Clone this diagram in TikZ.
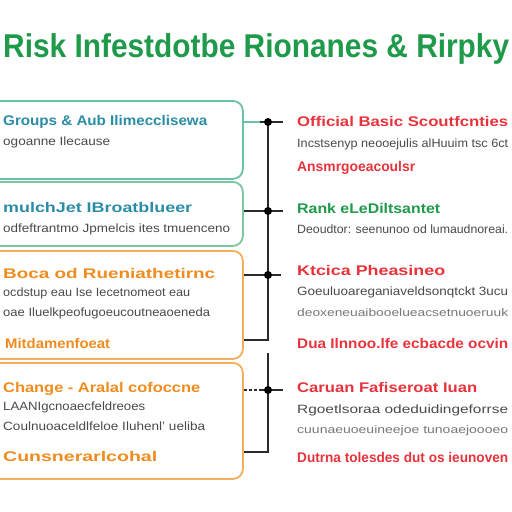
\documentclass[tikz,border=0pt]{standalone}
\usepackage{fontspec}
\setmainfont{Liberation Sans}
\usepackage{graphicx}
\newcommand{\fitw}[2]{\resizebox{#1}{\height}{#2}}
\definecolor{titlegreen}{HTML}{1E9A4A}
\definecolor{tealtext}{HTML}{2B8CA6}
\definecolor{redtext}{HTML}{E8333C}
\definecolor{orangetext}{HTML}{F08C1E}
\definecolor{orangeb}{HTML}{F4AD5A}
\definecolor{tealb}{HTML}{68C2A6}
\definecolor{greenb}{HTML}{7CC6A0}
\definecolor{graytext}{HTML}{4A4A4A}
\definecolor{lighttext}{HTML}{777777}
\definecolor{linecol}{HTML}{2A2A2A}
\begin{document}
\begin{tikzpicture}[x=1pt,y=-1pt,
  box/.style={draw, line width=1.8pt, rounded corners=10pt, anchor=north west, minimum width=262pt},
  txt/.style={inner sep=0pt, anchor=base west},
  head/.style={txt, font=\fontsize{14}{14}\selectfont\bfseries},
  sub/.style={txt, font=\fontsize{12}{12}\selectfont, text=graytext},
  subl/.style={txt, font=\fontsize{11}{11}\selectfont, text=lighttext},
  conn/.style={draw=linecol, line width=1.6pt},
  junction/.style={circle, fill=black, inner sep=0pt, minimum size=8pt}]
\useasboundingbox (0,0) rectangle (512,512);
\fill[white] (0,0) rectangle (512,512);

% title
\node[txt, text=titlegreen, font=\fontsize{33}{33}\selectfont\bfseries] (title) at (3,57)
  {\fitw{506pt}{Risk Infestdotbe Rionanes \& Rirpky}};

% left boxes
\node[box, draw=tealb, minimum height=78pt] (b1) at (-20,100) {};
\node[box, draw=greenb, minimum height=64pt] (b2) at (-20,181) {};
\node[box, draw=orangeb, minimum height=108pt] (b3) at (-20,250) {};
\node[box, draw=orangeb, minimum height=116pt] (b4) at (-20,362) {};

% box 1 text
\node[head, text=tealtext] (l1h) at (3,125) {\fitw{204pt}{Groups \& Aub Ilimecclisewa}};
\node[sub] (l1s) at (3,145) {\fitw{107pt}{ogoanne Ilecause}};
% box 2 text
\node[head, text=tealtext] (l2h) at (3,212) {\fitw{189pt}{mulchJet IBroatblueer}};
\node[sub] (l2s) at (3,232) {\fitw{227pt}{odfeftrantmo Jpmelcis ites tmuenceno}};
% box 3 text
\node[head, text=orangetext] (l3h) at (3,278) {\fitw{212pt}{Boca od Rueniathetirnc}};
\node[sub] (l3s) at (3,296) {\fitw{187pt}{ocdstup eau Ise Iecetnomeot eau}};
\node[sub] (l3t) at (3,316) {\fitw{207pt}{oae Iluelkpeofugoeucoutneaoeneda}};
\node[head, text=orangetext] (l3o) at (5,348) {\fitw{105pt}{Mitdamenfoeat}};
% box 4 text
\node[head, text=orangetext] (l4h) at (3,392) {\fitw{197pt}{Change - Aralal cofoccne}};
\node[sub] (l4s) at (3,410) {\fitw{142pt}{LAANIgcnoaecfeldreoes}};
\node[sub] (l4t) at (3,430) {\fitw{202pt}{Coulnuoaceldlfeloe Iluhenl' ueliba}};
\node[head, text=orangetext] (l4o) at (3,461) {\fitw{154pt}{Cunsnerarlcohal}};

% right texts
\node[head, text=redtext] (r1h) at (297,126) {\fitw{211pt}{Official Basic Scoutfcnties}};
\node[sub] (r1g) at (297,147) {\fitw{211pt}{Incstsenyp neooejulis alHuuim tsc 6ct}};
\node[head, text=redtext] (r1r) at (297,171) {\fitw{118pt}{Ansmrgoeacoulsr}};
\node[head, text=titlegreen] (r2h) at (297,213) {\fitw{143pt}{Rank eLeDiltsantet}};
\node[sub] (r2g) at (297,233) {\fitw{211pt}{Deoudtor: seenunoo od lumaudnoreai.}};
\node[head, text=redtext] (r3h) at (297,275) {\fitw{148pt}{Ktcica Pheasineo}};
\node[sub] (r3g) at (297,295) {\fitw{211pt}{Goeuluoareganiaveldsonqtckt 3ucu}};
\node[subl] (r3l) at (297,316) {\fitw{211pt}{deoxeneuaibooelueacsetnuoeruuk}};
\node[head, text=redtext] (r3r) at (297,348) {\fitw{211pt}{Dua Ilnnoo.lfe ecbacde ocvin}};
\node[head, text=redtext] (r4h) at (297,392) {\fitw{180pt}{Caruan Fafiseroat Iuan}};
\node[sub] (r4g) at (297,413) {\fitw{211pt}{Rgoetlsoraa odeduidingeforrse}};
\node[subl] (r4l) at (297,433) {\fitw{211pt}{cuunaeuoeuineejoe tunoaejoooeo}};
\node[head, text=redtext] (r4r) at (297,462) {\fitw{211pt}{Dutrna tolesdes dut os ieunoven}};

% junction coordinates
\coordinate (j1) at (268,122);
\coordinate (j2) at (268,211);
\coordinate (j3) at (268,275);
\coordinate (c3) at (268,340);
\coordinate (j4top) at (268,353);
\coordinate (j4) at (268,390);
\coordinate (c4) at (268,452);
\coordinate (e1) at (283,122);
\coordinate (e2) at (283,211);
\coordinate (e3) at (281,275);
\coordinate (e4) at (283,390);
\coordinate (g1) at (260,122);
\coordinate (g4) at (260,390);

% connectors
\draw[conn] (j1) -- (j2) -- (j3) -- (c3) -- (b3.east |- c3);
\draw[conn] (j4top) -- (j4) -- (c4) -- (b4.east |- c4);
\draw[draw=tealb, line width=1.8pt] (b1.east |- j1) -- (g1);
\draw[conn] (g1) -- (e1);
\draw[conn] (b2.east |- j2) -- (e2);
\draw[conn] (b3.east |- j3) -- (e3);
\draw[conn, dash pattern=on 3pt off 2pt] (b4.east |- j4) -- (g4);
\draw[conn] (g4) -- (e4);
\node[junction] (d1) at (j1) {};
\node[junction] (d2) at (j2) {};
\node[junction] (d3) at (j3) {};
\node[junction] (d4) at (j4) {};
\end{tikzpicture}
\end{document}
